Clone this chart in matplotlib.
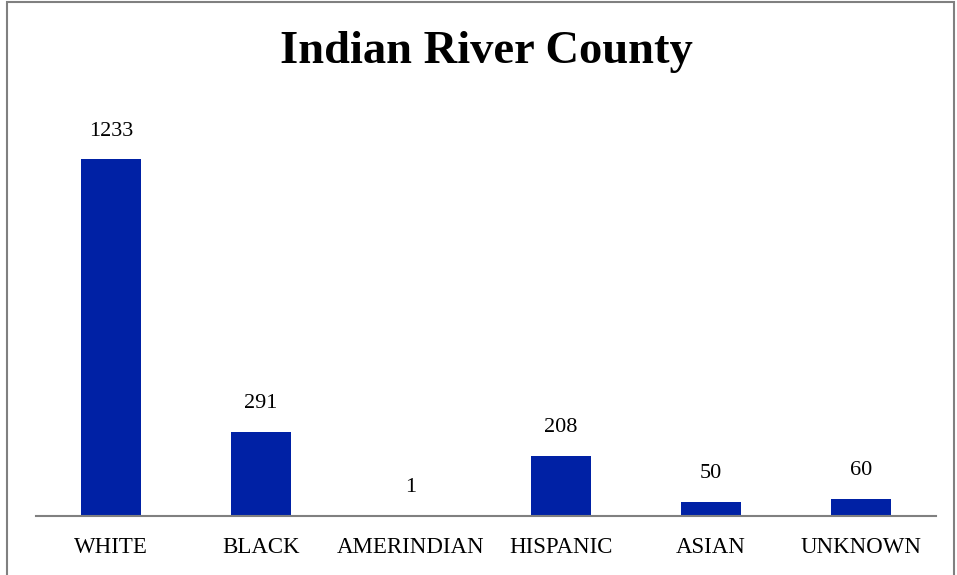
import matplotlib.pyplot as plt
from matplotlib.patches import Rectangle

categories = ['WHITE', 'BLACK', 'AMERINDIAN', 'HISPANIC', 'ASIAN', 'UNKNOWN']
counts = [1233, 291, 1, 208, 50, 60]

plt.rcParams['font.family'] = ['Liberation Serif', 'DejaVu Serif']

fig = plt.figure(figsize=(9.57, 5.75), dpi=100)
# axes: x 36..936 px, y 110..516 px
ax = fig.add_axes([36 / 957, (575 - 516) / 575, 900 / 957, 406 / 575])

x = range(len(categories))
bars = ax.bar(x, counts, width=0.4, color='#0021A5')
ax.set_xlim(-0.5, len(categories) - 0.5)
ax.set_ylim(0, 1233 * 406 / 357)

for b, v in zip(bars, counts):
    ax.annotate(str(v), (b.get_x() + b.get_width() / 2, v), xytext=(0, 20),
                textcoords='offset points', ha='center', va='center', fontsize=16)

ax.set_xticks(list(x))
ax.set_xticklabels(categories, fontsize=16.5)
ax.tick_params(axis='x', length=0, pad=15)
ax.set_yticks([])
for s in ['top', 'right', 'left']:
    ax.spines[s].set_visible(False)
ax.spines['bottom'].set_color('#808080')
ax.spines['bottom'].set_linewidth(1.5)

fig.text(486 / 957, 1 - 52 / 575, 'Indian River County', ha='center', va='center',
         fontsize=33.5, fontweight='bold')

fig.patches.append(Rectangle((7 / 957, -0.01), 947 / 957, 1 - 2 / 575 + 0.01,
                             transform=fig.transFigure, fill=False,
                             edgecolor='#808080', linewidth=1.5))

fig.savefig('out.png', dpi=100)
